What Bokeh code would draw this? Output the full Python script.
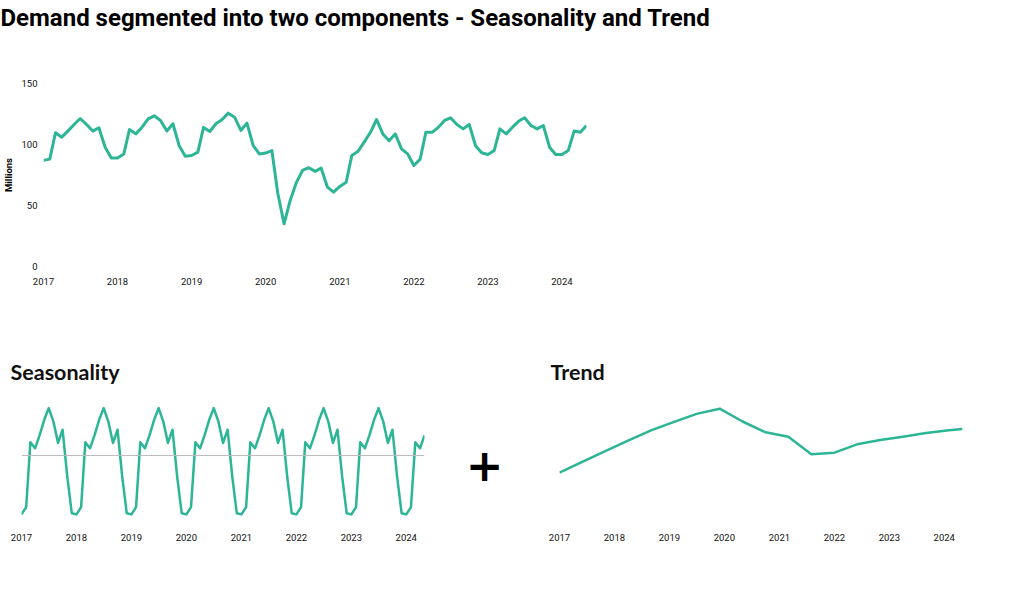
import pandas as pd
from bokeh.plotting import figure
from bokeh.layouts import column, row
from bokeh.models import Range1d, FixedTicker, Span, DatetimeTickFormatter
from bokeh.core.properties import value
from bokeh.embed import file_html
from bokeh.resources import INLINE

TITLE = "Demand segmented into two components - Seasonality and Trend"
SEASON_TITLE = "Seasonality"
TREND_TITLE = "Trend"
Y_LABEL = "Millions"
PLUS = "+"
START = "2017-01-01"

# Monthly demand (millions), Jan 2017 .. May 2024
demand = [
    87.0, 88.0, 109.6, 106.0, 111.0, 116.4, 121.3, 116.4, 111.0, 113.7, 97.8, 89.0,   # 2017
    89.0, 92.3, 112.3, 108.7, 114.0, 121.0, 123.5, 119.7, 111.0, 117.0, 99.0, 90.4,   # 2018
    91.0, 93.7, 114.0, 110.7, 117.0, 120.5, 125.7, 122.4, 111.5, 117.5, 99.0, 92.3,   # 2019
    93.0, 95.0, 60.0, 35.0, 54.0, 69.0, 78.7, 81.0, 78.0, 80.6, 65.0, 61.0,           # 2020
    65.6, 69.0, 91.0, 94.5, 102.0, 110.0, 120.5, 108.7, 103.0, 108.7, 96.4, 92.3,     # 2021
    82.8, 88.0, 110.0, 110.0, 114.0, 119.7, 121.9, 116.4, 112.8, 116.4, 99.0, 93.2,   # 2022
    91.8, 95.0, 112.8, 108.7, 114.0, 119.0, 121.9, 115.6, 112.8, 115.6, 97.8, 91.8,   # 2023
    91.8, 95.0, 111.0, 110.0, 115.6,                                                  # 2024
]

# Monthly seasonal component (millions), Jan 2017 .. May 2024
seasonality = [
    -19.6, -17.2, 4.4, 2.4, 6.7, 11.9, 15.8, 11.3, 4.2, 8.6, -7.0, -19.2,  # 2017
    -19.6, -17.2, 4.4, 2.4, 6.7, 11.9, 15.8, 11.3, 4.2, 8.6, -7.0, -19.2,  # 2018
    -19.6, -17.2, 4.4, 2.4, 6.7, 11.9, 15.8, 11.3, 4.2, 8.6, -7.0, -19.2,  # 2019
    -19.6, -17.2, 4.4, 2.4, 6.7, 11.9, 15.8, 11.3, 4.2, 8.6, -7.0, -19.2,  # 2020
    -19.6, -17.2, 4.4, 2.4, 6.7, 11.9, 15.8, 11.3, 4.2, 8.6, -7.0, -19.2,  # 2021
    -19.6, -17.2, 4.4, 2.4, 6.7, 11.9, 15.8, 11.3, 4.2, 8.6, -7.0, -19.2,  # 2022
    -19.6, -17.2, 4.4, 2.4, 6.7, 11.9, 15.8, 11.3, 4.2, 8.6, -7.0, -19.2,  # 2023
    -19.6, -17.2, 4.4, 2.4, 6.7,                                           # 2024
]

# Trend component (millions) at its change points
trend_dates = ["2017-01-01", "2017-06-01", "2017-11-01", "2018-04-01", "2018-09-01",
               "2019-02-01", "2019-07-01", "2019-12-01", "2020-05-01", "2020-10-01",
               "2021-03-01", "2021-08-01", "2022-01-01", "2022-06-01", "2022-11-01",
               "2023-04-01", "2023-09-01", "2024-02-01", "2024-05-01"]
trend_values = [96.0, 98.7, 101.4, 104.0, 106.6, 108.7, 110.7, 112.0, 108.8, 106.1,
                105.0, 100.6, 101.0, 103.1, 104.2, 105.0, 105.9, 106.6, 106.9]

tick_years = [2017, 2018, 2019, 2020, 2021, 2022, 2023, 2024]
y_ticks = [0, 50, 100, 150]

COLOR = "#2cb596"
TICK_FONT = "Roboto"
TITLE_FONT = "Roboto"
SUB_FONT = "Lato"

dates = pd.date_range(START, periods=len(demand), freq="MS")
tdates = pd.to_datetime(trend_dates)
x_start, x_end = dates[0], dates[-1]
year_ticks = [pd.Timestamp(f"{y}-01-01").value // 10**6 for y in tick_years]
year_fmt = DatetimeTickFormatter(days="%Y", months="%Y", years="%Y")


def clean(fig):
    fig.grid.visible = False
    fig.outline_line_color = None
    fig.background_fill_color = "white"
    fig.border_fill_color = "white"


def style_xaxis(ax, size="9.5px", standoff=8):
    ax.ticker = FixedTicker(ticks=year_ticks)
    ax.formatter = year_fmt
    ax.axis_line_color = None
    ax.major_tick_line_color = None
    ax.minor_tick_line_color = None
    ax.major_tick_out = 0
    ax.major_tick_in = 0
    ax.major_label_standoff = standoff
    ax.major_label_text_font = TICK_FONT
    ax.major_label_text_font_size = size
    ax.major_label_text_color = "#111111"


# ---------------- header (main title) ----------------
header = figure(width=1020, height=40, title=TITLE, output_backend="svg",
                toolbar_location=None, min_border_left=43, min_border_right=434,
                min_border_top=0, min_border_bottom=0)
header.title.text_font = TITLE_FONT
header.title.text_font_size = "24px"
header.title.text_font_style = "bold"
header.title.text_color = "#000000"
header.title.offset = -43
header.title.standoff = 2
header.xaxis.visible = False
header.yaxis.visible = False
clean(header)

# ---------------- demand chart ----------------
p = figure(width=1020, height=260, x_axis_type="datetime",
           x_range=Range1d(x_start, x_end), y_range=Range1d(0, 150),
           output_backend="svg", toolbar_location=None,
           min_border_left=43, min_border_right=434, min_border_top=43,
           min_border_bottom=34)
p.line(dates, demand, line_width=3, color=COLOR, line_join="round")
style_xaxis(p.xaxis[0], standoff=11)
p.yaxis.ticker = FixedTicker(ticks=y_ticks)
p.yaxis.axis_line_color = None
p.yaxis.major_tick_line_color = None
p.yaxis.minor_tick_line_color = None
p.yaxis.major_tick_out = 0
p.yaxis.major_tick_in = 0
p.yaxis.major_label_standoff = 6
p.yaxis.major_label_text_font = TICK_FONT
p.yaxis.major_label_text_font_size = "9.5px"
p.yaxis.major_label_text_color = "#111111"
p.yaxis.axis_label = Y_LABEL
p.yaxis.axis_label_standoff = 4
p.yaxis.axis_label_text_font = TICK_FONT
p.yaxis.axis_label_text_font_size = "9.5px"
p.yaxis.axis_label_text_font_style = "bold"
p.yaxis.axis_label_text_color = "#000000"
clean(p)

# ---------------- seasonality chart ----------------
s = figure(width=454, height=296, x_axis_type="datetime",
           x_range=Range1d(x_start, x_end), y_range=Range1d(-23.3, 20),
           title=SEASON_TITLE, output_backend="svg", toolbar_location=None,
           min_border_left=21, min_border_right=30, min_border_top=95,
           min_border_bottom=71)
s.title.text_font = SUB_FONT
s.title.text_font_size = "21.5px"
s.title.text_font_style = "bold"
s.title.text_color = "#111111"
s.title.offset = -11
s.title.standoff = 21
s.add_layout(Span(location=0, dimension="width", line_color="#bbbbbb", line_width=1))
s.line(dates, seasonality, line_width=2.5, color=COLOR, line_join="round")
style_xaxis(s.xaxis[0], standoff=8)
s.yaxis.visible = False
clean(s)

# ---------------- plus sign ----------------
plus = figure(width=60, height=296, x_range=Range1d(-1, 1), y_range=Range1d(-0.94, 1.06),
              output_backend="svg", toolbar_location=None,
              min_border_left=0, min_border_right=0, min_border_top=95,
              min_border_bottom=71)
plus.text(x=[0], y=[0], text=[PLUS], text_align="center", text_baseline="middle",
          text_font=value("DejaVu Sans"), text_font_style="bold",
          text_font_size="45px", text_color="#000000")
plus.xaxis.visible = False
plus.yaxis.visible = False
clean(plus)

# ---------------- trend chart ----------------
t = figure(width=506, height=296, x_axis_type="datetime",
           x_range=Range1d(x_start, x_end), y_range=Range1d(82.8, 115.3),
           title=TREND_TITLE, output_backend="svg", toolbar_location=None,
           min_border_left=45, min_border_right=58, min_border_top=95,
           min_border_bottom=71)
t.title.text_font = SUB_FONT
t.title.text_font_size = "21.5px"
t.title.text_font_style = "bold"
t.title.text_color = "#111111"
t.title.offset = -9
t.title.standoff = 21
t.line(tdates, trend_values, line_width=2.5, color=COLOR, line_join="round")
style_xaxis(t.xaxis[0], standoff=8)
t.yaxis.visible = False
clean(t)

layout = column(header, p, row(s, plus, t))
open("out.html", "w").write(file_html(layout, INLINE))
